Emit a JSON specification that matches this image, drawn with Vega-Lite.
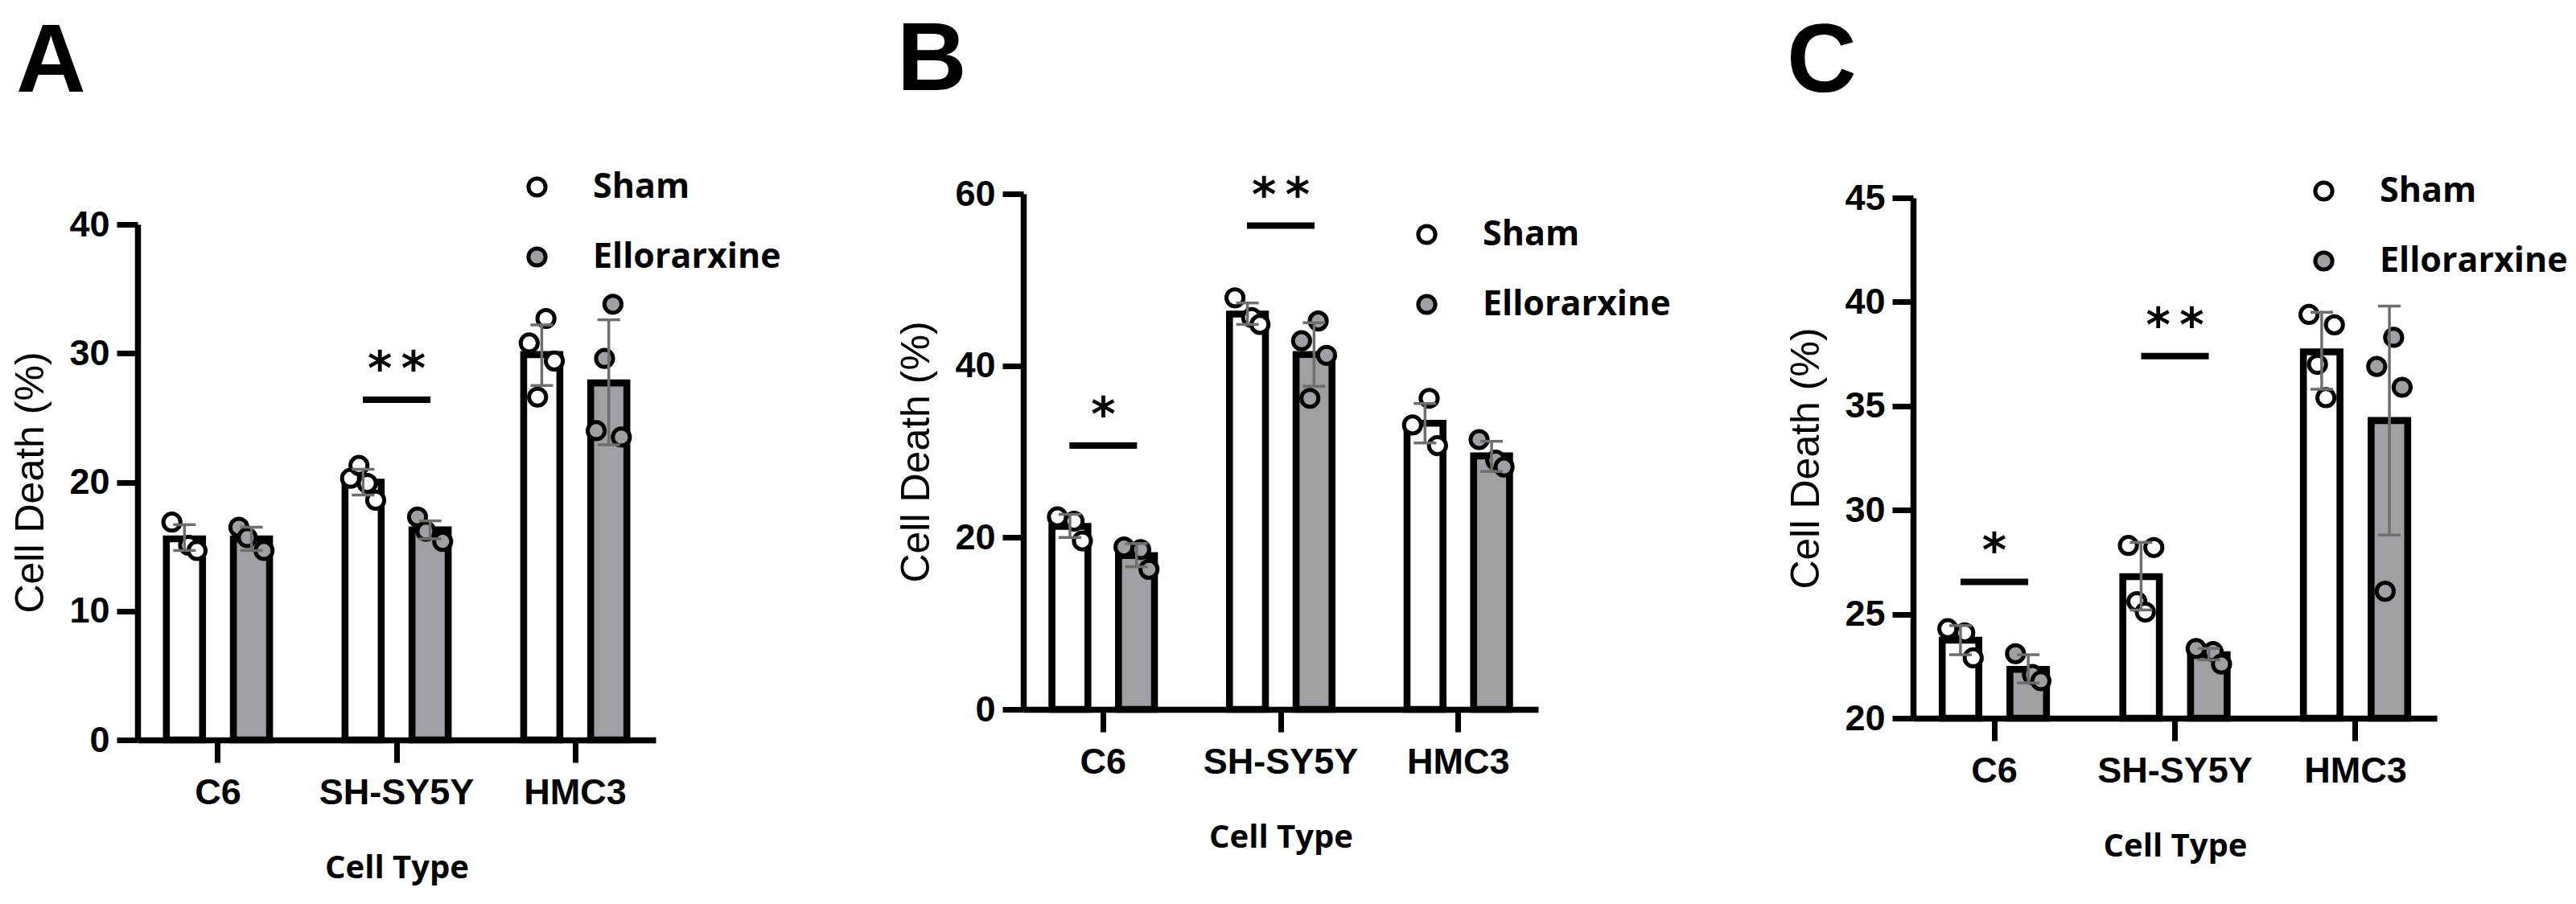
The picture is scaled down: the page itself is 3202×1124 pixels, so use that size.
{
  "$schema": "https://vega.github.io/schema/vega-lite/v6.json",
  "background": "white",
  "padding": {"left": 13, "top": 15, "right": 5, "bottom": 5},
  "spacing": 143,
  "resolve": {"scale": {"fill": "independent"}, "legend": {"fill": "independent"}},
  "config": {
    "view": {"stroke": null},
    "font": "Liberation Sans",
    "axis": {"grid": false, "domainColor": "black", "domainWidth": 7.5, "tickColor": "black", "tickWidth": 7, "labelColor": "black", "labelFont": "Liberation Sans", "labelFontSize": 45, "labelFontWeight": "bold", "labelLimit": 600, "titleColor": "black"},
    "axisX": {"tickSize": 28, "labelPadding": 15, "labelAngle": 0, "titlePadding": 51, "titleFont": "Open Sans", "titleFontSize": 40, "titleFontWeight": "bold"},
    "axisY": {"tickSize": 26, "labelPadding": 9, "titlePadding": 22, "titleFont": "Liberation Sans", "titleFontSize": 50, "titleFontWeight": "normal"},
    "legend": {"orient": "none", "symbolType": "circle", "symbolSize": 450, "symbolStrokeWidth": 5, "symbolStrokeColor": "black", "labelFont": "Open Sans", "labelFontSize": 43, "labelFontWeight": "bold", "labelColor": "black", "labelOffset": 48, "labelLimit": 600, "rowPadding": 43, "padding": 0},
    "title": {"anchor": "start", "frame": "bounds", "font": "Liberation Sans", "fontSize": 120, "fontWeight": "bold", "color": "black"}
  },
  "datasets": {
    "A_bars": [
      {"cell": "C6", "group": "Sham", "mean": 15.6, "lo": 14.7, "hi": 16.7},
      {"cell": "C6", "group": "Ellorarxine", "mean": 15.6, "lo": 14.7, "hi": 16.5},
      {"cell": "SH-SY5Y", "group": "Sham", "mean": 20.0, "lo": 19.0, "hi": 21.0},
      {"cell": "SH-SY5Y", "group": "Ellorarxine", "mean": 16.3, "lo": 15.6, "hi": 17.0},
      {"cell": "HMC3", "group": "Sham", "mean": 29.9, "lo": 27.5, "hi": 32.2},
      {"cell": "HMC3", "group": "Ellorarxine", "mean": 27.7, "lo": 22.9, "hi": 32.6}
    ],
    "A_points": [
      {"cell": "C6", "group": "Sham", "slot": "Sham-1", "v": 16.9},
      {"cell": "C6", "group": "Sham", "slot": "Sham-3", "v": 15.1},
      {"cell": "C6", "group": "Sham", "slot": "Sham-4", "v": 14.7},
      {"cell": "C6", "group": "Ellorarxine", "slot": "Ellorarxine-1", "v": 16.5},
      {"cell": "C6", "group": "Ellorarxine", "slot": "Ellorarxine-2", "v": 15.7},
      {"cell": "C6", "group": "Ellorarxine", "slot": "Ellorarxine-4", "v": 14.7},
      {"cell": "SH-SY5Y", "group": "Sham", "slot": "Sham-1", "v": 20.3},
      {"cell": "SH-SY5Y", "group": "Sham", "slot": "Sham-2", "v": 21.3},
      {"cell": "SH-SY5Y", "group": "Sham", "slot": "Sham-3", "v": 19.9},
      {"cell": "SH-SY5Y", "group": "Sham", "slot": "Sham-4", "v": 18.6},
      {"cell": "SH-SY5Y", "group": "Ellorarxine", "slot": "Ellorarxine-1", "v": 17.3},
      {"cell": "SH-SY5Y", "group": "Ellorarxine", "slot": "Ellorarxine-2", "v": 16.2},
      {"cell": "SH-SY5Y", "group": "Ellorarxine", "slot": "Ellorarxine-4", "v": 15.4},
      {"cell": "HMC3", "group": "Sham", "slot": "Sham-1", "v": 30.8},
      {"cell": "HMC3", "group": "Sham", "slot": "Sham-2", "v": 26.6},
      {"cell": "HMC3", "group": "Sham", "slot": "Sham-3", "v": 32.7},
      {"cell": "HMC3", "group": "Sham", "slot": "Sham-4", "v": 29.4},
      {"cell": "HMC3", "group": "Ellorarxine", "slot": "Ellorarxine-1", "v": 24.0},
      {"cell": "HMC3", "group": "Ellorarxine", "slot": "Ellorarxine-2", "v": 29.6},
      {"cell": "HMC3", "group": "Ellorarxine", "slot": "Ellorarxine-3", "v": 33.8},
      {"cell": "HMC3", "group": "Ellorarxine", "slot": "Ellorarxine-4", "v": 23.5}
    ],
    "A_sig": [
      {"cell": "SH-SY5Y", "y": 26.4, "label": "*\u2009*"}
    ],
    "B_bars": [
      {"cell": "C6", "group": "Sham", "mean": 21.3, "lo": 20.0, "hi": 22.7},
      {"cell": "C6", "group": "Ellorarxine", "mean": 17.9, "lo": 16.6, "hi": 19.3},
      {"cell": "SH-SY5Y", "group": "Sham", "mean": 46.0, "lo": 44.8, "hi": 47.3},
      {"cell": "SH-SY5Y", "group": "Ellorarxine", "mean": 41.3, "lo": 37.6, "hi": 45.0},
      {"cell": "HMC3", "group": "Sham", "mean": 33.3, "lo": 31.0, "hi": 35.6},
      {"cell": "HMC3", "group": "Ellorarxine", "mean": 29.5, "lo": 27.7, "hi": 31.2}
    ],
    "B_points": [
      {"cell": "C6", "group": "Sham", "slot": "Sham-1", "v": 22.4},
      {"cell": "C6", "group": "Sham", "slot": "Sham-3", "v": 21.9},
      {"cell": "C6", "group": "Sham", "slot": "Sham-4", "v": 19.6},
      {"cell": "C6", "group": "Ellorarxine", "slot": "Ellorarxine-1", "v": 18.9},
      {"cell": "C6", "group": "Ellorarxine", "slot": "Ellorarxine-3", "v": 18.6},
      {"cell": "C6", "group": "Ellorarxine", "slot": "Ellorarxine-4", "v": 16.3},
      {"cell": "SH-SY5Y", "group": "Sham", "slot": "Sham-1", "v": 47.9},
      {"cell": "SH-SY5Y", "group": "Sham", "slot": "Sham-3", "v": 45.6},
      {"cell": "SH-SY5Y", "group": "Sham", "slot": "Sham-4", "v": 44.8},
      {"cell": "SH-SY5Y", "group": "Ellorarxine", "slot": "Ellorarxine-1", "v": 42.9},
      {"cell": "SH-SY5Y", "group": "Ellorarxine", "slot": "Ellorarxine-2", "v": 36.2},
      {"cell": "SH-SY5Y", "group": "Ellorarxine", "slot": "Ellorarxine-3", "v": 45.2},
      {"cell": "SH-SY5Y", "group": "Ellorarxine", "slot": "Ellorarxine-4", "v": 41.2},
      {"cell": "HMC3", "group": "Sham", "slot": "Sham-1", "v": 33.1},
      {"cell": "HMC3", "group": "Sham", "slot": "Sham-3", "v": 36.2},
      {"cell": "HMC3", "group": "Sham", "slot": "Sham-4", "v": 30.7},
      {"cell": "HMC3", "group": "Ellorarxine", "slot": "Ellorarxine-1", "v": 31.4},
      {"cell": "HMC3", "group": "Ellorarxine", "slot": "Ellorarxine-3", "v": 29.0},
      {"cell": "HMC3", "group": "Ellorarxine", "slot": "Ellorarxine-4", "v": 28.2}
    ],
    "B_sig": [
      {"cell": "C6", "y": 30.7, "label": "*"},
      {"cell": "SH-SY5Y", "y": 56.3, "label": "*\u2009*"}
    ],
    "C_bars": [
      {"cell": "C6", "group": "Sham", "mean": 23.75, "lo": 23.05, "hi": 24.45},
      {"cell": "C6", "group": "Ellorarxine", "mean": 22.35, "lo": 21.7, "hi": 23.05},
      {"cell": "SH-SY5Y", "group": "Sham", "mean": 26.8, "lo": 25.2, "hi": 28.45},
      {"cell": "SH-SY5Y", "group": "Ellorarxine", "mean": 23.05, "lo": 22.8, "hi": 23.35},
      {"cell": "HMC3", "group": "Sham", "mean": 37.6, "lo": 35.8, "hi": 39.5},
      {"cell": "HMC3", "group": "Ellorarxine", "mean": 34.3, "lo": 28.8, "hi": 39.8}
    ],
    "C_points": [
      {"cell": "C6", "group": "Sham", "slot": "Sham-1", "v": 24.3},
      {"cell": "C6", "group": "Sham", "slot": "Sham-3", "v": 24.1},
      {"cell": "C6", "group": "Sham", "slot": "Sham-4", "v": 22.9},
      {"cell": "C6", "group": "Ellorarxine", "slot": "Ellorarxine-1", "v": 23.1},
      {"cell": "C6", "group": "Ellorarxine", "slot": "Ellorarxine-3", "v": 22.1},
      {"cell": "C6", "group": "Ellorarxine", "slot": "Ellorarxine-4", "v": 21.8},
      {"cell": "SH-SY5Y", "group": "Sham", "slot": "Sham-1", "v": 28.3},
      {"cell": "SH-SY5Y", "group": "Sham", "slot": "Sham-2", "v": 25.6},
      {"cell": "SH-SY5Y", "group": "Sham", "slot": "Sham-3", "v": 25.1},
      {"cell": "SH-SY5Y", "group": "Sham", "slot": "Sham-4", "v": 28.2},
      {"cell": "SH-SY5Y", "group": "Ellorarxine", "slot": "Ellorarxine-1", "v": 23.35},
      {"cell": "SH-SY5Y", "group": "Ellorarxine", "slot": "Ellorarxine-3", "v": 23.2},
      {"cell": "SH-SY5Y", "group": "Ellorarxine", "slot": "Ellorarxine-4", "v": 22.6},
      {"cell": "HMC3", "group": "Sham", "slot": "Sham-1", "v": 39.4},
      {"cell": "HMC3", "group": "Sham", "slot": "Sham-2", "v": 37.0},
      {"cell": "HMC3", "group": "Sham", "slot": "Sham-3", "v": 35.4},
      {"cell": "HMC3", "group": "Sham", "slot": "Sham-4", "v": 38.9},
      {"cell": "HMC3", "group": "Ellorarxine", "slot": "Ellorarxine-1", "v": 36.9},
      {"cell": "HMC3", "group": "Ellorarxine", "slot": "Ellorarxine-2", "v": 26.1},
      {"cell": "HMC3", "group": "Ellorarxine", "slot": "Ellorarxine-3", "v": 38.3},
      {"cell": "HMC3", "group": "Ellorarxine", "slot": "Ellorarxine-4", "v": 35.9}
    ],
    "C_sig": [
      {"cell": "C6", "y": 26.55, "label": "*"},
      {"cell": "SH-SY5Y", "y": 37.4, "label": "*\u2009*"}
    ]
  },
  "hconcat": [
    {
      "title": {"text": "A", "offset": 71.6, "dx": 6},
      "width": 644, "height": 679,
      "resolve": {"scale": {"xOffset": "independent"}},
      "layer": [
        {"data": {"name": "A_bars"}, "mark": {"type": "bar", "stroke": "black", "strokeWidth": 8.6},
         "encoding": {
           "x": {"field": "cell", "type": "nominal", "sort": ["C6", "SH-SY5Y", "HMC3"], "scale": {"paddingInner": 0.4, "paddingOuter": 0.15}, "title": "Cell Type"},
           "xOffset": {"field": "group", "type": "nominal", "scale": {"domain": ["Sham", "Ellorarxine"], "paddingInner": 0.46, "paddingOuter": 0.03}},
           "y": {"field": "mean", "type": "quantitative", "scale": {"domain": [0, 40], "nice": false, "range": [679, 38]}, "axis": {"values": [0, 10, 20, 30, 40]}, "title": "Cell Death (%)"},
           "fill": {"field": "group", "type": "nominal", "scale": {"domain": ["Sham", "Ellorarxine"], "range": ["white", "#a0a0a4"]}, "legend": {"title": null, "orient": "none", "legendX": 475, "legendY": -30}}
         }},
        {"data": {"name": "A_points"}, "mark": {"type": "point", "shape": "circle", "filled": true, "stroke": "black", "strokeWidth": 5, "size": 450, "opacity": 1},
         "encoding": {
           "x": {"field": "cell", "type": "nominal", "sort": ["C6", "SH-SY5Y", "HMC3"], "title": "Cell Type"},
           "xOffset": {"field": "slot", "type": "nominal", "scale": {"type": "point", "padding": 0.9, "domain": ["Sham-1", "Sham-2", "Sham-3", "Sham-4", "gap-1", "gap-2", "gap-3", "gap-4", "Ellorarxine-1", "Ellorarxine-2", "Ellorarxine-3", "Ellorarxine-4"]}},
           "y": {"field": "v", "type": "quantitative", "title": "Cell Death (%)"},
           "fill": {"field": "group", "type": "nominal"}
         }},
        {"data": {"name": "A_bars"}, "mark": {"type": "rule", "color": "#6e6e6e", "strokeWidth": 3.5, "opacity": 1},
         "encoding": {
           "x": {"field": "cell", "type": "nominal", "sort": ["C6", "SH-SY5Y", "HMC3"], "title": "Cell Type"},
           "xOffset": {"field": "group", "type": "nominal", "scale": {"domain": ["Sham", "Ellorarxine"], "paddingInner": 0.46, "paddingOuter": 0.03}},
           "y": {"field": "lo", "type": "quantitative", "title": "Cell Death (%)"},
           "y2": {"field": "hi"}
         }},
        {"data": {"name": "A_bars"}, "mark": {"type": "tick", "color": "#6e6e6e", "thickness": 3.5, "size": 28, "opacity": 1},
         "encoding": {
           "x": {"field": "cell", "type": "nominal", "sort": ["C6", "SH-SY5Y", "HMC3"], "title": "Cell Type"},
           "xOffset": {"field": "group", "type": "nominal", "scale": {"domain": ["Sham", "Ellorarxine"], "paddingInner": 0.46, "paddingOuter": 0.03}},
           "y": {"field": "lo", "type": "quantitative", "title": "Cell Death (%)"}
         }},
        {"data": {"name": "A_bars"}, "mark": {"type": "tick", "color": "#6e6e6e", "thickness": 3.5, "size": 28, "opacity": 1},
         "encoding": {
           "x": {"field": "cell", "type": "nominal", "sort": ["C6", "SH-SY5Y", "HMC3"], "title": "Cell Type"},
           "xOffset": {"field": "group", "type": "nominal", "scale": {"domain": ["Sham", "Ellorarxine"], "paddingInner": 0.46, "paddingOuter": 0.03}},
           "y": {"field": "hi", "type": "quantitative", "title": "Cell Death (%)"}
         }},
        {"data": {"name": "A_sig"}, "mark": {"type": "tick", "color": "black", "thickness": 8, "size": 84, "opacity": 1},
         "encoding": {
           "x": {"field": "cell", "type": "nominal", "sort": ["C6", "SH-SY5Y", "HMC3"], "title": "Cell Type"},
           "y": {"field": "y", "type": "quantitative", "title": "Cell Death (%)"}
         }},
        {"data": {"name": "A_sig"}, "mark": {"type": "text", "font": "DejaVu Sans", "fontWeight": "bold", "fontSize": 58, "dy": -36, "baseline": "middle", "color": "black"},
         "encoding": {
           "x": {"field": "cell", "type": "nominal", "sort": ["C6", "SH-SY5Y", "HMC3"], "title": "Cell Type"},
           "y": {"field": "y", "type": "quantitative", "title": "Cell Death (%)"},
           "text": {"field": "label"}
         }}
      ]
    },
    {
      "title": {"text": "B", "offset": 78.6},
      "width": 640, "height": 641,
      "resolve": {"scale": {"xOffset": "independent"}},
      "layer": [
        {"data": {"name": "B_bars"}, "mark": {"type": "bar", "stroke": "black", "strokeWidth": 8.6},
         "encoding": {
           "x": {"field": "cell", "type": "nominal", "sort": ["C6", "SH-SY5Y", "HMC3"], "scale": {"paddingInner": 0.4, "paddingOuter": 0.15}, "title": "Cell Type"},
           "xOffset": {"field": "group", "type": "nominal", "scale": {"domain": ["Sham", "Ellorarxine"], "paddingInner": 0.46, "paddingOuter": 0.03}},
           "y": {"field": "mean", "type": "quantitative", "scale": {"domain": [0, 60], "nice": false}, "axis": {"values": [0, 20, 40, 60]}, "title": "Cell Death (%)"},
           "fill": {"field": "group", "type": "nominal", "scale": {"domain": ["Sham", "Ellorarxine"], "range": ["white", "#a0a0a4"]}, "legend": {"title": null, "orient": "none", "legendX": 480, "legendY": 29}}
         }},
        {"data": {"name": "B_points"}, "mark": {"type": "point", "shape": "circle", "filled": true, "stroke": "black", "strokeWidth": 5, "size": 450, "opacity": 1},
         "encoding": {
           "x": {"field": "cell", "type": "nominal", "sort": ["C6", "SH-SY5Y", "HMC3"], "title": "Cell Type"},
           "xOffset": {"field": "slot", "type": "nominal", "scale": {"type": "point", "padding": 0.9, "domain": ["Sham-1", "Sham-2", "Sham-3", "Sham-4", "gap-1", "gap-2", "gap-3", "gap-4", "Ellorarxine-1", "Ellorarxine-2", "Ellorarxine-3", "Ellorarxine-4"]}},
           "y": {"field": "v", "type": "quantitative", "title": "Cell Death (%)"},
           "fill": {"field": "group", "type": "nominal"}
         }},
        {"data": {"name": "B_bars"}, "mark": {"type": "rule", "color": "#6e6e6e", "strokeWidth": 3.5, "opacity": 1},
         "encoding": {
           "x": {"field": "cell", "type": "nominal", "sort": ["C6", "SH-SY5Y", "HMC3"], "title": "Cell Type"},
           "xOffset": {"field": "group", "type": "nominal", "scale": {"domain": ["Sham", "Ellorarxine"], "paddingInner": 0.46, "paddingOuter": 0.03}},
           "y": {"field": "lo", "type": "quantitative", "title": "Cell Death (%)"},
           "y2": {"field": "hi"}
         }},
        {"data": {"name": "B_bars"}, "mark": {"type": "tick", "color": "#6e6e6e", "thickness": 3.5, "size": 28, "opacity": 1},
         "encoding": {
           "x": {"field": "cell", "type": "nominal", "sort": ["C6", "SH-SY5Y", "HMC3"], "title": "Cell Type"},
           "xOffset": {"field": "group", "type": "nominal", "scale": {"domain": ["Sham", "Ellorarxine"], "paddingInner": 0.46, "paddingOuter": 0.03}},
           "y": {"field": "lo", "type": "quantitative", "title": "Cell Death (%)"}
         }},
        {"data": {"name": "B_bars"}, "mark": {"type": "tick", "color": "#6e6e6e", "thickness": 3.5, "size": 28, "opacity": 1},
         "encoding": {
           "x": {"field": "cell", "type": "nominal", "sort": ["C6", "SH-SY5Y", "HMC3"], "title": "Cell Type"},
           "xOffset": {"field": "group", "type": "nominal", "scale": {"domain": ["Sham", "Ellorarxine"], "paddingInner": 0.46, "paddingOuter": 0.03}},
           "y": {"field": "hi", "type": "quantitative", "title": "Cell Death (%)"}
         }},
        {"data": {"name": "B_sig"}, "mark": {"type": "tick", "color": "black", "thickness": 8, "size": 84, "opacity": 1},
         "encoding": {
           "x": {"field": "cell", "type": "nominal", "sort": ["C6", "SH-SY5Y", "HMC3"], "title": "Cell Type"},
           "y": {"field": "y", "type": "quantitative", "title": "Cell Death (%)"}
         }},
        {"data": {"name": "B_sig"}, "mark": {"type": "text", "font": "DejaVu Sans", "fontWeight": "bold", "fontSize": 58, "dy": -36, "baseline": "middle", "color": "black"},
         "encoding": {
           "x": {"field": "cell", "type": "nominal", "sort": ["C6", "SH-SY5Y", "HMC3"], "title": "Cell Type"},
           "y": {"field": "y", "type": "quantitative", "title": "Cell Death (%)"},
           "text": {"field": "label"}
         }}
      ]
    },
    {
      "title": {"text": "C", "offset": 76.6},
      "width": 651, "height": 652,
      "resolve": {"scale": {"xOffset": "independent"}},
      "layer": [
        {"data": {"name": "C_bars"}, "mark": {"type": "bar", "stroke": "black", "strokeWidth": 8.6},
         "encoding": {
           "x": {"field": "cell", "type": "nominal", "sort": ["C6", "SH-SY5Y", "HMC3"], "scale": {"paddingInner": 0.4, "paddingOuter": 0.15}, "title": "Cell Type"},
           "xOffset": {"field": "group", "type": "nominal", "scale": {"domain": ["Sham", "Ellorarxine"], "paddingInner": 0.46, "paddingOuter": 0.03}},
           "y": {"field": "mean", "type": "quantitative", "scale": {"domain": [20, 45], "nice": false, "zero": false, "range": [652, 5]}, "axis": {"values": [20, 25, 30, 35, 40, 45]}, "title": "Cell Death (%)"},
           "y2": {"datum": 20},
           "fill": {"field": "group", "type": "nominal", "scale": {"domain": ["Sham", "Ellorarxine"], "range": ["white", "#a0a0a4"]}, "legend": {"title": null, "orient": "none", "legendX": 489, "legendY": -25}}
         }},
        {"data": {"name": "C_points"}, "mark": {"type": "point", "shape": "circle", "filled": true, "stroke": "black", "strokeWidth": 5, "size": 450, "opacity": 1},
         "encoding": {
           "x": {"field": "cell", "type": "nominal", "sort": ["C6", "SH-SY5Y", "HMC3"], "title": "Cell Type"},
           "xOffset": {"field": "slot", "type": "nominal", "scale": {"type": "point", "padding": 0.9, "domain": ["Sham-1", "Sham-2", "Sham-3", "Sham-4", "gap-1", "gap-2", "gap-3", "gap-4", "Ellorarxine-1", "Ellorarxine-2", "Ellorarxine-3", "Ellorarxine-4"]}},
           "y": {"field": "v", "type": "quantitative", "title": "Cell Death (%)"},
           "fill": {"field": "group", "type": "nominal"}
         }},
        {"data": {"name": "C_bars"}, "mark": {"type": "rule", "color": "#6e6e6e", "strokeWidth": 3.5, "opacity": 1},
         "encoding": {
           "x": {"field": "cell", "type": "nominal", "sort": ["C6", "SH-SY5Y", "HMC3"], "title": "Cell Type"},
           "xOffset": {"field": "group", "type": "nominal", "scale": {"domain": ["Sham", "Ellorarxine"], "paddingInner": 0.46, "paddingOuter": 0.03}},
           "y": {"field": "lo", "type": "quantitative", "title": "Cell Death (%)"},
           "y2": {"field": "hi"}
         }},
        {"data": {"name": "C_bars"}, "mark": {"type": "tick", "color": "#6e6e6e", "thickness": 3.5, "size": 28, "opacity": 1},
         "encoding": {
           "x": {"field": "cell", "type": "nominal", "sort": ["C6", "SH-SY5Y", "HMC3"], "title": "Cell Type"},
           "xOffset": {"field": "group", "type": "nominal", "scale": {"domain": ["Sham", "Ellorarxine"], "paddingInner": 0.46, "paddingOuter": 0.03}},
           "y": {"field": "lo", "type": "quantitative", "title": "Cell Death (%)"}
         }},
        {"data": {"name": "C_bars"}, "mark": {"type": "tick", "color": "#6e6e6e", "thickness": 3.5, "size": 28, "opacity": 1},
         "encoding": {
           "x": {"field": "cell", "type": "nominal", "sort": ["C6", "SH-SY5Y", "HMC3"], "title": "Cell Type"},
           "xOffset": {"field": "group", "type": "nominal", "scale": {"domain": ["Sham", "Ellorarxine"], "paddingInner": 0.46, "paddingOuter": 0.03}},
           "y": {"field": "hi", "type": "quantitative", "title": "Cell Death (%)"}
         }},
        {"data": {"name": "C_sig"}, "mark": {"type": "tick", "color": "black", "thickness": 8, "size": 84, "opacity": 1},
         "encoding": {
           "x": {"field": "cell", "type": "nominal", "sort": ["C6", "SH-SY5Y", "HMC3"], "title": "Cell Type"},
           "y": {"field": "y", "type": "quantitative", "title": "Cell Death (%)"}
         }},
        {"data": {"name": "C_sig"}, "mark": {"type": "text", "font": "DejaVu Sans", "fontWeight": "bold", "fontSize": 58, "dy": -36, "baseline": "middle", "color": "black"},
         "encoding": {
           "x": {"field": "cell", "type": "nominal", "sort": ["C6", "SH-SY5Y", "HMC3"], "title": "Cell Type"},
           "y": {"field": "y", "type": "quantitative", "title": "Cell Death (%)"},
           "text": {"field": "label"}
         }}
      ]
    }
  ]
}
